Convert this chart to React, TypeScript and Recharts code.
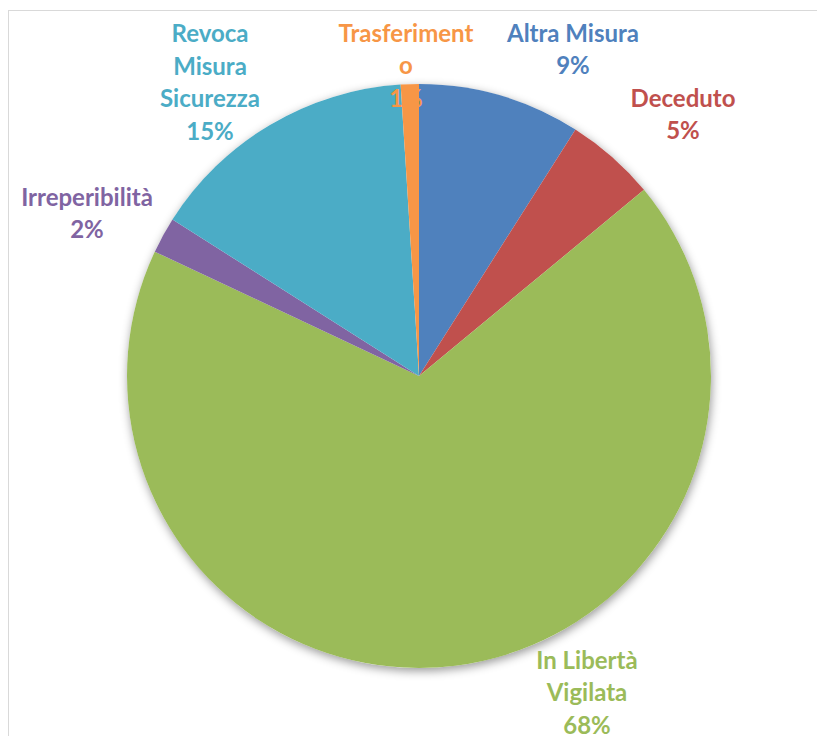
import { PieChart, Pie, Cell } from "recharts";

const categories = ["Altra Misura", "Deceduto", "In Libertà Vigilata", "Irreperibilità", "Revoca Misura Sicurezza", "Trasferimento"];
const shares = [9, 5, 68, 2, 15, 1];
const colors = ["#4f81bd", "#c0504d", "#9bbb59", "#8064a2", "#4bacc6", "#f79646"];

// how each label wraps, as Excel drew it
const labelLines: Record<string, string[]> = {
  "Altra Misura": ["Altra Misura"],
  Deceduto: ["Deceduto"],
  "In Libertà Vigilata": ["In Libertà", "Vigilata"],
  Irreperibilità: ["Irreperibilità"],
  "Revoca Misura Sicurezza": ["Revoca", "Misura", "Sicurezza"],
  Trasferimento: ["Trasferiment", "o"]
};

// label block centre, relative to the pie centre
const labelOffset: Record<string, [number, number]> = {
  "Altra Misura": [154, -328],
  Deceduto: [264, -263],
  "In Libertà Vigilata": [168, 315],
  Irreperibilità: [-332, -164],
  "Revoca Misura Sicurezza": [-209, -295],
  Trasferimento: [-13, -312]
};

const data = categories.map((name, i) => ({ name, value: shares[i] }));
const whole = [{ name: "shadow", value: 100 }];

const LINE_H = 32.5;

function renderLabel(props: any) {
  const { cx, cy, index } = props;
  const name = categories[index];
  const lines = [...labelLines[name], `${shares[index]}%`];
  const [dx, dy] = labelOffset[name];
  const x = cx + dx;
  const top = cy + dy - ((lines.length - 1) * LINE_H) / 2;
  return (
    <text
      x={x}
      y={top}
      fill={colors[index]}
      textAnchor="middle"
      dominantBaseline="central"
      style={{ fontFamily: "Lato, sans-serif", fontWeight: 700, fontSize: 24 }}
    >
      {lines.map((l, i) => (
        <tspan key={i} x={x} y={top + i * LINE_H}>
          {l}
        </tspan>
      ))}
    </text>
  );
}

export default function App() {
  return (
    <>
      <style>{`body { overflow: hidden; }`}</style>
      <div
        style={{
          position: "absolute",
          left: 8,
          top: 10,
          width: 900,
          height: 900,
          border: "1px solid #d9d9d9",
          background: "#fff"
        }}
      />
      <div style={{ position: "absolute", left: 0, top: 0 }}>
        <PieChart width={817} height={736} margin={{ top: 0, right: 0, bottom: 0, left: 0 }}>
          {/* soft shadow under the whole pie */}
          <Pie
            data={whole}
            dataKey="value"
            cx={419}
            cy={376}
            outerRadius={292}
            stroke="none"
            isAnimationActive={false}
          >
            <Cell fill="#ffffff" style={{ filter: "drop-shadow(1px 3px 5px rgba(0,0,0,0.4))" }} />
          </Pie>
          <Pie
            data={data}
            dataKey="value"
            nameKey="name"
            cx={419}
            cy={376}
            outerRadius={292}
            startAngle={90}
            endAngle={-270}
            stroke="none"
            labelLine={false}
            label={renderLabel}
            isAnimationActive={false}
          >
            {data.map((d, i) => (
              <Cell key={d.name} fill={colors[i]} />
            ))}
          </Pie>
        </PieChart>
      </div>
    </>
  );
}
